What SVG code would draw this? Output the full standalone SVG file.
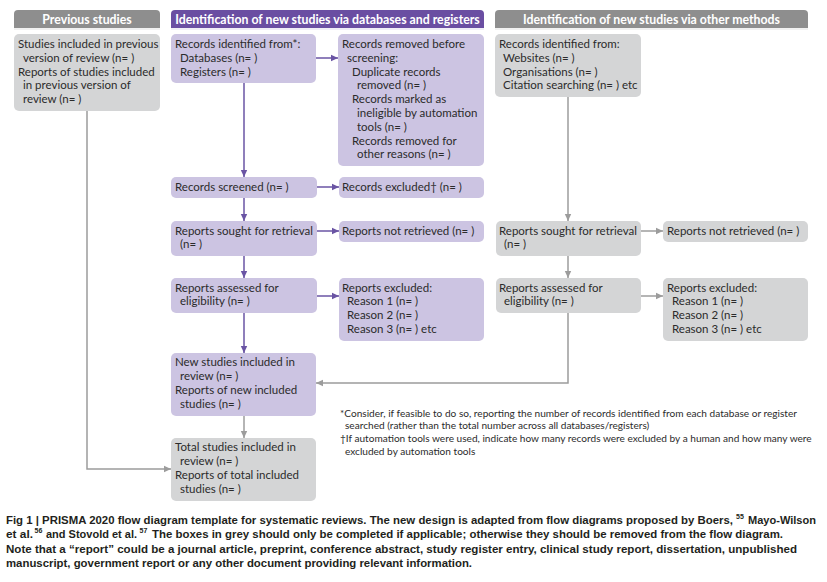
<svg xmlns="http://www.w3.org/2000/svg" width="827" height="582" viewBox="0 0 827 582">
<style>
.t{font-family:Lato,"Liberation Sans",sans-serif;font-size:11.5px;fill:#2b2b2b}
.h{font-family:Lato,"Liberation Sans",sans-serif;font-size:12.3px;font-weight:bold;fill:#fff}
.fn{font-family:Lato,"Liberation Sans",sans-serif;font-size:10.1px;fill:#2b2b2b}
.cap{font-family:"Liberation Sans",Arial,sans-serif;font-size:11.6px;font-weight:bold;fill:#231f20}
.sup{font-family:"Liberation Sans",Arial,sans-serif;font-size:7px;font-weight:bold;fill:#231f20}
.pb{fill:#ccc4e2}
.gb{fill:#d4d5d6}
.pc{fill:none;stroke:#6a54a4;stroke-width:1.5}
.gc{fill:none;stroke:#9c9c9c;stroke-width:1.5}
</style>
<defs>
<marker id="ap" markerUnits="userSpaceOnUse" markerWidth="8" markerHeight="8" refX="7" refY="4" orient="auto"><path d="M0,0.8 L7,4 L0,7.2 z" fill="#6a54a4"/></marker>
<marker id="ag" markerUnits="userSpaceOnUse" markerWidth="8" markerHeight="8" refX="7" refY="4" orient="auto"><path d="M0,0.8 L7,4 L0,7.2 z" fill="#9c9c9c"/></marker>
</defs>
<rect width="827" height="582" fill="#fff"/>

<g id="hdr-prev">
<path d="M14,28 V14 Q14,10 18,10 H156 Q160,10 160,14 V28 z" fill="#8e8e8e"/>
<rect x="14" y="28.5" width="146" height="1" fill="#e3e3e3"/>
<text class="h" x="87" y="23.5" text-anchor="middle">Previous studies</text>
</g>
<g id="hdr-db">
<path d="M171,28 V14 Q171,10 175,10 H480 Q484,10 484,14 V28 z" fill="#6a4ea2"/>
<rect x="171" y="28.5" width="313" height="1" fill="#e2ddef"/>
<text class="h" x="327.5" y="23.5" text-anchor="middle">Identification of new studies via databases and registers</text>
</g>
<g id="hdr-other">
<path d="M495,28 V14 Q495,10 499,10 H804 Q808,10 808,14 V28 z" fill="#8e8e8e"/>
<rect x="495" y="28.5" width="313" height="1" fill="#e3e3e3"/>
<text class="h" x="651.5" y="23.5" text-anchor="middle">Identification of new studies via other methods</text>
</g>

<g id="connectors">
<path class="pc" d="M244,83 V177" marker-end="url(#ap)"/>
<path class="pc" d="M316,58 H338" marker-end="url(#ap)"/>
<path class="pc" d="M317,187 H339" marker-end="url(#ap)"/>
<path class="pc" d="M244,198 V221" marker-end="url(#ap)"/>
<path class="pc" d="M317,231 H339" marker-end="url(#ap)"/>
<path class="pc" d="M244,256 V278" marker-end="url(#ap)"/>
<path class="pc" d="M317,296 H339" marker-end="url(#ap)"/>
<path class="pc" d="M244,313 V353" marker-end="url(#ap)"/>
<path class="gc" d="M244,416 V438" marker-end="url(#ag)"/>
<path class="gc" d="M87,111 V469 H171" marker-end="url(#ag)"/>
<path class="gc" d="M568,97 V221" marker-end="url(#ag)"/>
<path class="gc" d="M641,231 H663" marker-end="url(#ag)"/>
<path class="gc" d="M568,256 V278" marker-end="url(#ag)"/>
<path class="gc" d="M641,296 H663" marker-end="url(#ag)"/>
<path class="gc" d="M568,313 V383 H316" marker-end="url(#ag)"/>
</g>

<g id="prev-studies">
<rect class="gb" x="14" y="34" width="146" height="77" rx="5"/>
<text class="t" x="18" y="48">Studies included in previous</text>
<text class="t" x="23" y="62">version of review (n= )</text>
<text class="t" x="18" y="76">Reports of studies included</text>
<text class="t" x="23" y="89">in previous version of</text>
<text class="t" x="23" y="103">review (n= )</text>
</g>

<g id="records-identified">
<rect class="pb" x="171" y="34" width="145" height="49" rx="5"/>
<text class="t" x="175" y="48">Records identified from*:</text>
<text class="t" x="180" y="62">Databases (n= )</text>
<text class="t" x="180" y="76">Registers (n= )</text>
</g>

<g id="records-removed">
<rect class="pb" x="338" y="34" width="146" height="132" rx="5"/>
<text class="t" x="342" y="48">Records removed before</text>
<text class="t" x="347" y="62">screening:</text>
<text class="t" x="352" y="76">Duplicate records</text>
<text class="t" x="357" y="89">removed (n= )</text>
<text class="t" x="352" y="103">Records marked as</text>
<text class="t" x="357" y="117">ineligible by automation</text>
<text class="t" x="357" y="131">tools (n= )</text>
<text class="t" x="352" y="145">Records removed for</text>
<text class="t" x="357" y="158">other reasons (n= )</text>
</g>

<g id="other-identified">
<rect class="gb" x="495" y="34" width="146" height="63" rx="5"/>
<text class="t" x="499" y="48">Records identified from:</text>
<text class="t" x="503" y="62">Websites (n= )</text>
<text class="t" x="503" y="76">Organisations (n= )</text>
<text class="t" x="503" y="89">Citation searching (n= ) etc</text>
</g>

<g id="records-screened">
<rect class="pb" x="171" y="177" width="146" height="21" rx="5"/>
<text class="t" x="175" y="191">Records screened (n= )</text>
</g>
<g id="records-excluded">
<rect class="pb" x="339" y="177" width="145" height="21" rx="5"/>
<text class="t" x="342" y="191">Records excluded† (n= )</text>
</g>

<g id="db-sought">
<rect class="pb" x="171" y="221" width="146" height="35" rx="5"/>
<text class="t" x="175" y="235">Reports sought for retrieval</text>
<text class="t" x="180" y="248">(n= )</text>
</g>
<g id="db-not-retrieved">
<rect class="pb" x="339" y="221" width="145" height="21" rx="5"/>
<text class="t" x="342" y="235">Reports not retrieved (n= )</text>
</g>

<g id="db-assessed">
<rect class="pb" x="171" y="278" width="146" height="35" rx="5"/>
<text class="t" x="175" y="292">Reports assessed for</text>
<text class="t" x="180" y="305">eligibility (n= )</text>
</g>
<g id="db-excluded">
<rect class="pb" x="339" y="278" width="145" height="63" rx="5"/>
<text class="t" x="342" y="292">Reports excluded:</text>
<text class="t" x="347" y="305">Reason 1 (n= )</text>
<text class="t" x="347" y="319">Reason 2 (n= )</text>
<text class="t" x="347" y="333">Reason 3 (n= ) etc</text>
</g>

<g id="other-sought">
<rect class="gb" x="496" y="221" width="145" height="35" rx="5"/>
<text class="t" x="499" y="235">Reports sought for retrieval</text>
<text class="t" x="504" y="248">(n= )</text>
</g>
<g id="other-not-retrieved">
<rect class="gb" x="663" y="221" width="145" height="21" rx="5"/>
<text class="t" x="667" y="235">Reports not retrieved (n= )</text>
</g>

<g id="other-assessed">
<rect class="gb" x="496" y="278" width="145" height="35" rx="5"/>
<text class="t" x="499" y="292">Reports assessed for</text>
<text class="t" x="504" y="305">eligibility (n= )</text>
</g>
<g id="other-excluded">
<rect class="gb" x="663" y="278" width="145" height="63" rx="5"/>
<text class="t" x="667" y="292">Reports excluded:</text>
<text class="t" x="672" y="305">Reason 1 (n= )</text>
<text class="t" x="672" y="319">Reason 2 (n= )</text>
<text class="t" x="672" y="333">Reason 3 (n= ) etc</text>
</g>

<g id="new-included">
<rect class="pb" x="171" y="353" width="145" height="63" rx="5"/>
<text class="t" x="175" y="366">New studies included in</text>
<text class="t" x="180" y="380">review (n= )</text>
<text class="t" x="175" y="394">Reports of new included</text>
<text class="t" x="180" y="408">studies (n= )</text>
</g>

<g id="total-included">
<rect class="gb" x="171" y="438" width="145" height="63" rx="5"/>
<text class="t" x="175" y="451">Total studies included in</text>
<text class="t" x="180" y="465">review (n= )</text>
<text class="t" x="175" y="479">Reports of total included</text>
<text class="t" x="180" y="493">studies (n= )</text>
</g>

<g id="footnotes">
<text class="fn" x="340" y="416.5">*Consider, if feasible to do so, reporting the number of records identified from each database or register</text>
<text class="fn" x="345" y="429">searched (rather than the total number across all databases/registers)</text>
<text class="fn" x="340" y="442">†If automation tools were used, indicate how many records were excluded by a human and how many were</text>
<text class="fn" x="345" y="454.5">excluded by automation tools</text>
</g>

<g id="caption">
<text class="cap" x="6" y="524" font-size="11.2" textLength="727" lengthAdjust="spacingAndGlyphs">Fig 1 | PRISMA 2020 flow diagram template for systematic reviews. The new design is adapted from flow diagrams proposed by Boers,</text>
<text class="sup" x="736" y="518.5">55</text>
<text class="cap" x="748" y="524" textLength="68" lengthAdjust="spacingAndGlyphs">Mayo-Wilson</text>
<text class="cap" x="6" y="538" textLength="27" lengthAdjust="spacingAndGlyphs">et al.</text>
<text class="sup" x="34.5" y="532.5">56</text>
<text class="cap" x="46" y="538" font-size="10.5" textLength="91" lengthAdjust="spacingAndGlyphs">and Stovold et al.</text>
<text class="sup" x="139.5" y="532.5">57</text>
<text class="cap" x="152" y="538" textLength="631" lengthAdjust="spacingAndGlyphs">The boxes in grey should only be completed if applicable; otherwise they should be removed from the flow diagram.</text>
<text class="cap" x="6" y="552.5" textLength="791" lengthAdjust="spacingAndGlyphs">Note that a “report” could be a journal article, preprint, conference abstract, study register entry, clinical study report, dissertation, unpublished</text>
<text class="cap" x="6" y="567" textLength="466" lengthAdjust="spacingAndGlyphs">manuscript, government report or any other document providing relevant information.</text>
</g>
</svg>
